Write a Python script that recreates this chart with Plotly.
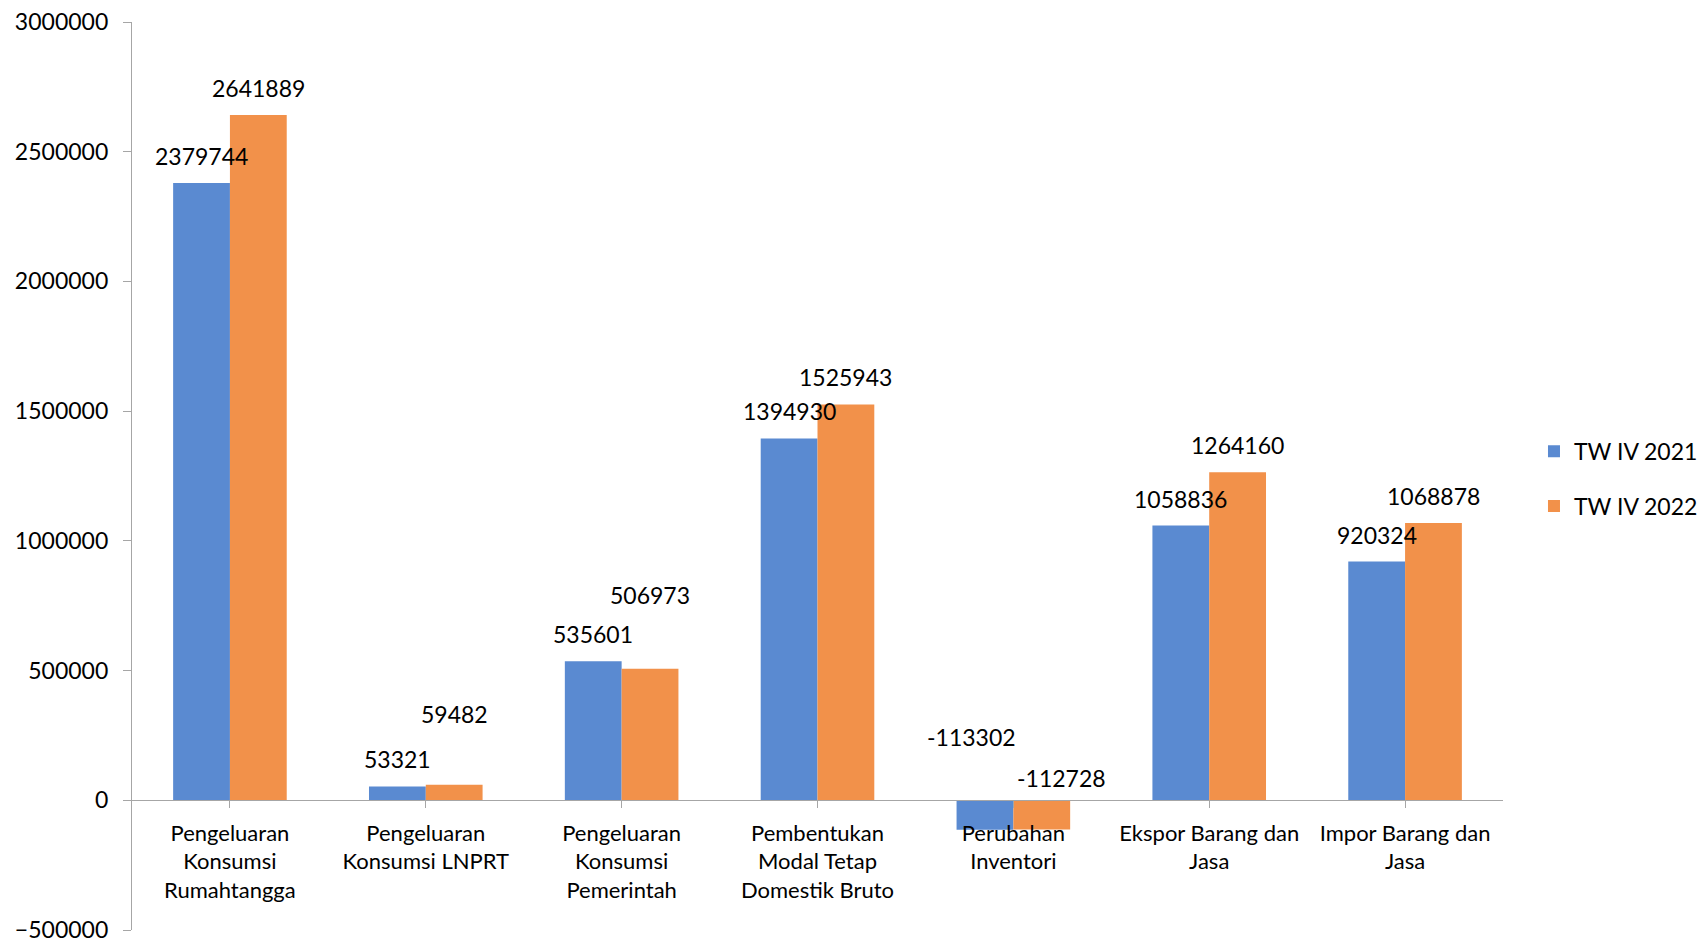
import plotly.graph_objects as go

categories = [
    "Pengeluaran<br>Konsumsi<br>Rumahtangga",
    "Pengeluaran<br>Konsumsi LNPRT",
    "Pengeluaran<br>Konsumsi<br>Pemerintah",
    "Pembentukan<br>Modal Tetap<br>Domestik Bruto",
    "Perubahan<br>Inventori",
    "Ekspor Barang dan<br>Jasa",
    "Impor Barang dan<br>Jasa",
]
tw_iv_2021 = [2379744, 53321, 535601, 1394930, -113302, 1058836, 920324]
tw_iv_2022 = [2641889, 59482, 506973, 1525943, -112728, 1264160, 1068878]
series_names = ["TW IV 2021", "TW IV 2022"]

# styling
colors = ["#5A8AD1", "#F2914A"]
FONT = "Lato, 'Open Sans', sans-serif"
Y_MIN, Y_MAX = -500000, 3000000
BARGAP = 0.42
# label nudges (px) for labels Excel placed away from the default spot: (series, cat) -> (dx, dy)
default_dy = 27
label_nudge = {(1, 1): (0, 71), (1, 2): (0, 74), (0, 4): (-13, 63), (1, 4): (20, 22)}

fig = go.Figure()
for s, (name, vals) in enumerate(zip(series_names, [tw_iv_2021, tw_iv_2022])):
    fig.add_trace(go.Bar(
        x=list(range(len(categories))), y=vals, name=name,
        marker=dict(color=colors[s], line=dict(width=0)),
        legendgroup=name,
    ))

half = (1 - BARGAP) / 4
for s, vals in enumerate([tw_iv_2021, tw_iv_2022]):
    for j, v in enumerate(vals):
        dx, dy = label_nudge.get((s, j), (0, default_dy))
        fig.add_annotation(
            x=j + (-half if s == 0 else half), y=max(v, 0), xref="x", yref="y",
            text=str(v), showarrow=False, xanchor="center", yanchor="middle",
            xshift=dx, yshift=dy, font=dict(family=FONT, size=23, color="black"),
        )

axis_color = "#A6A6A6"
fig.update_layout(
    width=1706, height=944,
    paper_bgcolor="white", plot_bgcolor="white",
    margin=dict(l=124, r=211, t=14, b=22, autoexpand=False),
    barmode="group", bargap=BARGAP, bargroupgap=0,
    font=dict(family=FONT, size=23, color="black"),
    showlegend=True,
    legend=dict(x=1.0226, y=0.551, xanchor="left", yanchor="top",
                font=dict(family=FONT, size=23, color="black"),
                tracegroupgap=22, traceorder="grouped",
                itemwidth=30, bgcolor="rgba(0,0,0,0)"),
    yaxis=dict(range=[Y_MIN, Y_MAX], tickvals=list(range(Y_MIN, Y_MAX + 1, 500000)),
               tickformat="d", showgrid=False, zeroline=False, automargin=False,
               showline=True, linecolor=axis_color, linewidth=1.3,
               ticks="outside", ticklen=8, tickcolor=axis_color, tickwidth=1.3,
               ticklabelstandoff=10, ticklabeloverflow="allow",
               tickfont=dict(family=FONT, size=23, color="black")),
    xaxis=dict(range=[-0.5, len(categories) - 0.5],
               tickvals=list(range(len(categories))), ticktext=categories,
               anchor="free", position=(0 - Y_MIN) / (Y_MAX - Y_MIN), automargin=False,
               showline=True, linecolor=axis_color, linewidth=1.3,
               ticks="outside", ticklen=7, tickcolor=axis_color, tickwidth=1.3,
               tickson="boundaries", showgrid=False, zeroline=False,
               tickangle=0, ticklabelstandoff=6, ticklabeloverflow="allow",
               tickfont=dict(family=FONT, size=22, color="black")),
)
fig.write_html("out.html")
